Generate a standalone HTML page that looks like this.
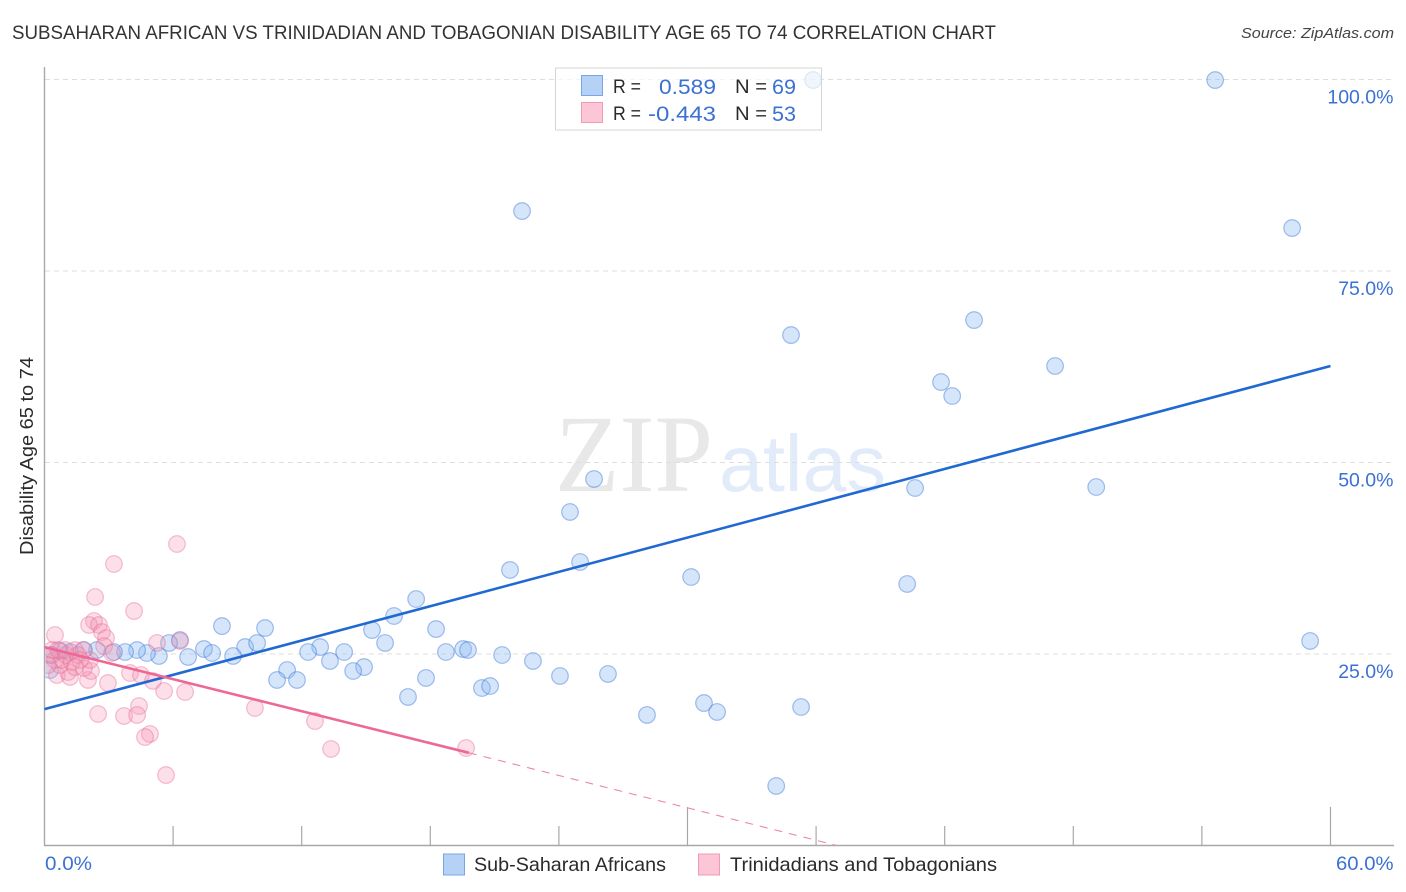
<!DOCTYPE html>
<html lang="en">
<head>
<meta charset="utf-8">
<title>Sub-Saharan African vs Trinidadian and Tobagonian Disability Age 65 to 74 Correlation Chart</title>
<style>
html,body{margin:0;padding:0;background:#fff;width:1406px;height:892px;overflow:hidden}
svg{display:block;font-family:"Liberation Sans",sans-serif}
.blue{fill:#3b71d2}
.dark{fill:#2a2a2a}
</style>
</head>
<body>
<svg id="chart" width="1406" height="892" viewBox="0 0 1406 892" xmlns="http://www.w3.org/2000/svg">
  <defs>
    <clipPath id="plotClip"><rect x="45.5" y="60" width="1350" height="786"/></clipPath>
  </defs>
  <text x="12" y="39" font-size="19" fill="#333" textLength="984" lengthAdjust="spacingAndGlyphs">SUBSAHARAN AFRICAN VS TRINIDADIAN AND TOBAGONIAN DISABILITY AGE 65 TO 74 CORRELATION CHART</text>
  <text x="1241" y="38" font-size="15" font-style="italic" fill="#444" textLength="153" lengthAdjust="spacingAndGlyphs">Source: ZipAtlas.com</text>

  <g>
    <text x="555" y="491" font-family="'Liberation Serif',serif" font-size="110" fill="#e8e8e8" textLength="158" lengthAdjust="spacingAndGlyphs">ZIP</text>
    <text x="719" y="491" font-family="'Liberation Sans',sans-serif" font-size="80" fill="#e1ebf9" textLength="167" lengthAdjust="spacingAndGlyphs">atlas</text>
  </g>

  <g id="grid"></g>
  <g id="axes"></g>
  <g clip-path="url(#plotClip)">
    <g id="dotsBlue"></g>
    <g id="dotsPink"></g>
  </g>
  <g id="trends"></g>
  <g id="tickLabels"></g>

  <text transform="translate(33,456) rotate(-90)" text-anchor="middle" font-size="18.5" class="dark" textLength="198" lengthAdjust="spacingAndGlyphs">Disability Age 65 to 74</text>

  <g>
    <rect x="555.5" y="68" width="266" height="62" fill="#fff" fill-opacity="0.65" stroke="#d4d4d4" stroke-width="1"/>
    <rect x="581.5" y="75.5" width="21" height="20" fill="#b6d1f6" stroke="#7ba6e4" stroke-width="1"/>
    <rect x="581.5" y="102.5" width="21" height="20" fill="#fcc6d7" stroke="#f09ab6" stroke-width="1"/>
    <text x="613" y="93" font-size="19" class="dark" textLength="28" lengthAdjust="spacingAndGlyphs">R =</text>
    <text x="659" y="94" font-size="21" class="blue" textLength="57" lengthAdjust="spacingAndGlyphs">0.589</text>
    <text x="735" y="93" font-size="19" class="dark" textLength="32" lengthAdjust="spacingAndGlyphs">N =</text>
    <text x="772" y="94" font-size="21" class="blue" textLength="24" lengthAdjust="spacingAndGlyphs">69</text>
    <text x="613" y="120" font-size="19" class="dark" textLength="28" lengthAdjust="spacingAndGlyphs">R =</text>
    <text x="648" y="121" font-size="21" class="blue" textLength="68" lengthAdjust="spacingAndGlyphs">-0.443</text>
    <text x="735" y="120" font-size="19" class="dark" textLength="32" lengthAdjust="spacingAndGlyphs">N =</text>
    <text x="772" y="121" font-size="21" class="blue" textLength="24" lengthAdjust="spacingAndGlyphs">53</text>
  </g>

  <g>
    <rect x="443.5" y="854" width="21" height="21" fill="#b6d1f6" stroke="#7ba6e4" stroke-width="1"/>
    <text x="474" y="871" font-size="19.5" class="dark" textLength="192" lengthAdjust="spacingAndGlyphs">Sub-Saharan Africans</text>
    <rect x="698.5" y="854" width="21" height="21" fill="#fcc6d7" stroke="#f09ab6" stroke-width="1"/>
    <text x="730" y="871" font-size="19.5" class="dark" textLength="267" lengthAdjust="spacingAndGlyphs">Trinidadians and Tobagonians</text>
  </g>
</svg>
<script>
var blueX = [35.86,54.62,22.28,58.21,34.83,43.37,47.15,41.83,42.35,40.62,49.07,25.64,24.52,24.99,21.72,30.17,40.25,17.34,16.31,8.28,10.29,15.28,18.27,59.05,15.89,6.32,5.81,7.44,9.36,9.92,12.86,12.3,13.98,18.73,19.53,19.76,21.35,22.79,24.05,26.29,14.91,14.4,13.32,11.32,10.85,11.78,17.8,16.96,20.41,20.79,28.11,30.77,31.38,35.3,34.14,6.7,7.82,8.8,5.34,4.78,4.32,3.76,3.24,2.45,1.84,1.19,0.72,0.26,0.35];
var blueY = [99.93,99.93,82.83,80.61,66.64,68.6,62.6,60.5,58.68,46.67,46.8,47.85,43.54,37.01,35.97,35.05,34.14,32.18,29.96,28.65,28.39,28.13,28.26,26.7,26.44,26.83,26.44,25.65,25.91,26.44,25.91,25.26,25.26,25.26,25.65,25.52,24.87,24.09,22.13,22.39,23.3,22.78,24.09,22.91,21.61,21.61,21.87,19.39,20.56,20.82,17.04,18.6,17.43,18.08,7.77,24.61,25.13,24.74,24.74,25.13,25.52,25.26,25.26,25.52,25.52,25.26,25.39,22.91,24.87];
var pinkX = [6.18,3.24,2.36,4.18,2.31,2.08,2.54,2.68,2.87,0.49,6.32,5.25,2.78,1.42,1.8,3.15,3.99,4.5,5.06,2.96,2.03,2.17,1.84,5.58,6.56,4.41,2.5,3.71,4.32,4.92,4.69,9.82,12.62,13.37,19.67,5.67,0.58,1.19,1.1,0.72,0.82,0.26,0.49,1.0,1.28,1.56,0.35,0.16,0.63,2.12,1.66,0.96,1.42];
var pinkY = [39.36,36.75,32.44,30.61,29.31,28.79,28.79,27.87,27.09,27.48,26.7,26.44,26.04,25.52,25.52,25.13,22.52,22.26,21.48,21.21,21.61,22.78,23.17,20.17,20.04,18.21,17.17,16.91,17.04,14.56,14.16,17.95,16.25,12.6,12.73,9.2,22.26,22,22.65,23.56,24.22,24.87,24.22,24.87,23.95,24.87,25.52,23.56,25.52,24.22,24.22,25.52,23.3];
var blueTrendX = [0,60];
var blueTrendY = [17.8,62.6];
var pinkSolidX = [0,19.8];
var pinkSolidY = [25.9,12.1];
var pinkDashX = [19.8,36.9];
var pinkDashY = [12.1,0.05];
var yTicks = [25,50,75,100];
var yTickLabels = ['25.0%','50.0%','75.0%','100.0%'];
var xTicks = [6,12,18,24,30,36,42,48,54,60];
var xMajorTicks = [30,60];

var NS = 'http://www.w3.org/2000/svg';
function sx(v){ return 44.5 + v * 21.433; }
function sy(v){ return 845.5 - v * 7.66; }
function make(tag, parent, attrs){
  var el = document.createElementNS(NS, tag);
  for (var k in attrs) el.setAttribute(k, attrs[k]);
  document.getElementById(parent).appendChild(el);
  return el;
}

yTicks.forEach(function(t, i){
  var g = make('line', 'grid', {x1:45, x2:1393, y1:sy(t), y2:sy(t), stroke:'#dedede', 'stroke-width':1, 'stroke-dasharray':'5 4'});
  
  
  var lab = make('text', 'tickLabels', {x:1393.5, y:sy(t) + 24, 'text-anchor':'end', 'font-size':19.5, fill:'#3b71d2'});
  
  
  lab.textContent = yTickLabels[i];
});

var yAxis = make('line', 'axes', {x1:44.5, x2:44.5, y1:67, y2:846, stroke:'#a8a8a8', 'stroke-width':1.4});


var xAxis = make('line', 'axes', {x1:44, x2:1394, y1:845.5, y2:845.5, stroke:'#a8a8a8', 'stroke-width':1.4});


xTicks.forEach(function(t){
  var major = xMajorTicks.indexOf(t) >= 0;
  var tk = make('line', 'axes', {x1:sx(t), x2:sx(t), y1:major ? 807 : 826, y2:845.5, stroke:'#a8a8a8', 'stroke-width':1.2});
  
  
});

var x0 = make('text', 'tickLabels', {x:45, y:870, 'font-size':19.5, fill:'#3b71d2', textLength:47, lengthAdjust:'spacingAndGlyphs'});


x0.textContent = '0.0%';
var x60 = make('text', 'tickLabels', {x:1336, y:870, 'font-size':19.5, fill:'#3b71d2', textLength:57.5, lengthAdjust:'spacingAndGlyphs'});


x60.textContent = '60.0%';

blueX.forEach(function(v, i){
  var c = make('circle', 'dotsBlue', {cx:sx(v), cy:sy(blueY[i]), r:8.3, fill:'rgba(140,185,240,0.36)', stroke:'rgba(55,115,215,0.45)', 'stroke-width':1.2});
  
  
});
pinkX.forEach(function(v, i){
  var c = make('circle', 'dotsPink', {cx:sx(v), cy:sy(pinkY[i]), r:8.3, fill:'rgba(245,150,180,0.3)', stroke:'rgba(232,105,148,0.42)', 'stroke-width':1.2});
  
  
});

var tb = make('line', 'trends', {x1:sx(blueTrendX[0]), y1:sy(blueTrendY[0]), x2:sx(blueTrendX[1]), y2:sy(blueTrendY[1]), stroke:'#2169d2', 'stroke-width':2.6});


var tp = make('line', 'trends', {x1:sx(pinkSolidX[0]), y1:sy(pinkSolidY[0]), x2:sx(pinkSolidX[1]), y2:sy(pinkSolidY[1]), stroke:'#ee6795', 'stroke-width':2.6});


var td = make('line', 'trends', {x1:sx(pinkDashX[0]), y1:sy(pinkDashY[0]), x2:sx(pinkDashX[1]), y2:sy(pinkDashY[1]), stroke:'#ee86a8', 'stroke-width':1.1, 'stroke-dasharray':'8 7'});


</script>
</body>
</html>
